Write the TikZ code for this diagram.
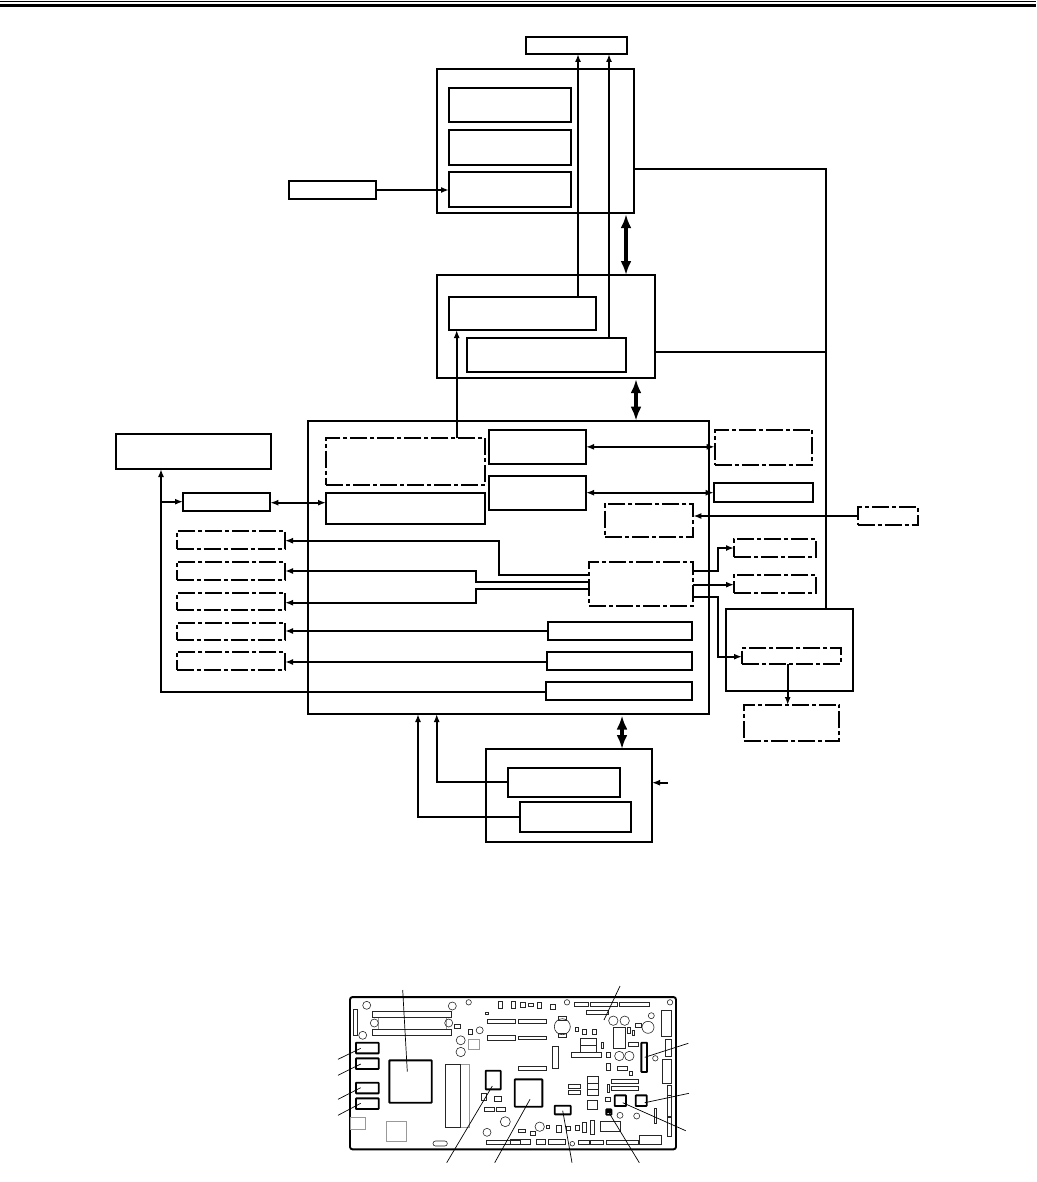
\documentclass[tikz,border=0pt]{standalone}
\usepackage{tikz}
\usetikzlibrary{calc,arrows.meta}
\tikzset{
    solidbox/.style={draw,line width=1.9pt,inner sep=0pt,outer sep=0pt},
    dashbox/.style={solidbox,dash pattern=on 17pt off 3pt on 4pt off 3pt},
    chipbox/.style={draw,line width=1.9pt,inner sep=0pt,outer sep=0pt,rounded corners=0.6pt},
    sigline/.style={line width=1.9pt,-{Latex[length=8pt,width=6pt]}},
    sigboth/.style={line width=1.9pt,{Latex[length=8pt,width=6pt]}-{Latex[length=8pt,width=6pt]}},
    plainline/.style={line width=1.9pt},
    busline/.style={line width=3.6pt,{Latex[length=14pt,width=11pt]}-{Latex[length=14pt,width=11pt]}},
    partline/.style={line width=0.6pt,black!85},
    fadeline/.style={line width=0.6pt,black!40},
    leaderline/.style={line width=0.7pt}
}
\begin{document}
\begin{tikzpicture}[x=1pt,y=-1pt]
    \useasboundingbox (0,0) rectangle (1036,1182);
    \coordinate (ruleL) at (0,1);
    \coordinate (ruleR) at (1036,1);
    \coordinate (barL) at (0,5.5);
    \coordinate (barR) at (1036,5.5);
    \draw[line width=0.8pt] (ruleL) -- (ruleR);
    \draw[line width=2.8pt] (barL) -- (barR);
    % block diagram
    \foreach \n/\xa/\ya/\xb/\yb in {
        panel/525.7/36.7/627/54, reader/436.7/69/634/212.7, rdA/449/88/571.3/122,
        rdB/449/130/571.3/165, rdC/449/172/571.3/207, sensor/288.7/181/376/199,
        driver/436.7/275/655/377.7, drvA/449/296.7/596/330, drvB/467/338/626/372,
        main/308/420.7/709.3/714, mainB/326/493/485.3/524, mainC/488.7/430/586/463.7,
        mainD/488.7/476/586/509.7, mainE/547.7/622/692.3/639.7, mainF/546.7/652/692.3/669.7,
        mainG/546/682.3/692.3/700, outB/713.7/482.7/813.3/502, power/726/609/852.7/691,
        host/116/434/271/469, link/183/493/270.3/510.7, lower/486/749/652/842,
        lowA/508.3/767.7/619.7/797.3, lowB/520/802/631.3/832}
        \node[solidbox,minimum width={(\xb-\xa)*1pt},minimum height={(\yb-\ya)*1pt}] (\n) at ({(\xa+\xb)/2},{(\ya+\yb)/2}) {};
    \foreach \n/\xa/\ya/\xb/\yb in {
        mainA/326/438/485.3/484.7, mainH/605/504/693.3/536.7, mainI/589/562/693.3/606,
        outA/714.7/430/812.3/464.7, outC/857.7/507/918.3/525, outD/734/538.7/816/556.7,
        outE/734/574.7/816/593, powA/742/648/840.7/664, outF/744/705/839.3/741,
        optA/176.7/531/285/548.7, optB/176.7/561.7/285/579.7, optC/176.7/592.7/285/610,
        optD/176.7/622.7/285/640, optE/176.7/652/285/670}
        \node[dashbox,minimum width={(\xb-\xa)*1pt},minimum height={(\yb-\ya)*1pt}] (\n) at ({(\xa+\xb)/2},{(\ya+\yb)/2}) {};
    \draw[sigline] (sensor.east) -- (rdC.west |- sensor.east);
    \draw[sigline] (578,0 |- drvA.north) -- (578,0 |- panel.south);
    \draw[sigline] (609,0 |- drvB.north) -- (609,0 |- panel.south);
    \draw[sigline] (456.7,0 |- mainA.north) -- (456.7,0 |- drvA.south);
    \draw[busline] (626,0 |- reader.south) ++(0,1.5) -- (626,0 |- driver.north);
    \draw[busline] (636,0 |- driver.south) ++(0,1.5) -- (636,0 |- main.north);
    \draw[busline] (622,0 |- main.south) ++(0,1.5) -- (622,0 |- lower.north);
    \draw[plainline] (reader.east |- 0,169) -| (826,0 |- power.north);
    \draw[plainline] (driver.east |- 0,352) -- (826,352);
    \draw[sigboth] (link.east |- 0,502.7) -- (mainB.west |- 0,502.7);
    \draw[sigboth] (mainC.east) -- (outA.west |- mainC.east);
    \draw[sigboth] (mainD.east |- 0,492.7) -- (outB.west |- 0,492.7);
    \draw[sigline] (outC.west) -- (mainH.east |- outC.west);
    \draw[sigline] (mainI.east |- 0,570.7) -- (718,570.7) |- (outD.west |- 0,548);
    \draw[sigline] (mainI.east |- 0,584.7) -- (outE.west |- 0,584.7);
    \draw[sigline] (mainI.east |- 0,596.7) -- (718,596.7) |- (powA.west |- 0,656.7);
    \draw[sigline] (787.7,0 |- powA.south) -- (787.7,0 |- outF.north);
    \draw[sigline] (mainI.west |- 0,575) -- (498.7,575) |- (optA.east |- 0,540.7);
    \draw[sigline] (mainI.west |- 0,582) -- (476,582) |- (optB.east |- 0,571);
    \draw[sigline] (mainI.west |- 0,588.7) -- (476,588.7) |- (optC.east |- 0,602.7);
    \draw[sigline] (mainE.west |- 0,631) -- (optD.east |- 0,631);
    \draw[sigline] (mainF.west |- 0,662) -- (optE.east |- 0,662);
    \draw[sigline] (mainG.west |- 0,692) -| (161,0 |- host.south);
    \draw[sigline] (161,501.7) -- (link.west |- 0,501.7);
    \draw[sigline] (lowA.west |- 0,781.7) -| (436.7,0 |- main.south);
    \draw[sigline] (lowB.west |- 0,817) -| (418,0 |- main.south);
    \coordinate (feed) at (668,782.7);
    \draw[sigline] (feed) -- (lower.east |- feed);
    % board
    \node[solidbox,rounded corners=2.5pt,minimum width=326pt,minimum height=152.3pt] (board) at (513,1073.2) {};
    \foreach \n/\xa/\ya/\xb/\yb in {
        conA/356/1042.7/378.7/1053.3, conB/356/1058.3/378.7/1069, conC/356/1082.7/378.7/1093.3,
        conD/356/1098.3/378.7/1109, chipA/389.3/1060.3/431.7/1102.7, chipB/485.7/1070.7/500.7/1089.3,
        chipC/514.7/1079.3/542.3/1106.7, conE/554.7/1105.7/570.7/1114.3, conF/614.7/1095.3/626/1106,
        conG/635.7/1095.3/646.7/1106, conH/606.3/1109.3/611.3/1114.7, conI/641.3/1042.7/647/1072}
        \node[chipbox,minimum width={(\xb-\xa)*1pt},minimum height={(\yb-\ya)*1pt}] (\n) at ({(\xa+\xb)/2},{(\ya+\yb)/2}) {};
    \fill (606.3,1109.3) rectangle (611.3,1112.5);
    \foreach \xa/\ya/\xb/\yb in {
        378/1017.3/446/1029, 468.7/1039.3/479.3/1049, 460.7/1064.7/469.3/1127.7,
        386.3/1121.7/406.3/1141.7, 350.7/1117.3/365.7/1129.7}
        \draw[fadeline] (\xa,\ya) rectangle (\xb,\yb);
    \foreach \xa/\ya/\xb/\yb in {
        353.3/1009.3/357.7/1035, 372.3/1011.7/451.7/1017.3, 372.3/1029/451.7/1035,
        498.3/1001.7/502.3/1008, 511.7/1001.7/515.7/1008, 485.3/1012/488.7/1014.7,
        454.7/1024.7/460/1028.7, 468/1029.3/472.3/1034, 487.7/1019.3/515.3/1023.3,
        487.7/1035.7/515.3/1040, 445/1064.7/460.7/1127.7,
        481.7/1093.3/486.7/1100, 494.7/1096.7/501/1101, 484.3/1107.7/494.3/1111.7,
        496/1107.7/505.7/1111.7, 486.7/1140/520/1144, 520.7/1002/525.3/1007.7,
        528.3/1003.3/533.3/1006.7, 537.3/1002.3/541.3/1008, 550.7/1004.3/555.7/1009,
        574/1002.7/588.7/1006.3, 590/1002.7/617.7/1006.3, 619.3/1002.7/649.3/1006.3,
        518.7/1019/546/1023, 518.7/1036/546/1039.7, 586/1010/608.3/1014,
        518.7/1066/546/1070, 575.3/1027.7/578.3/1031.7, 582/1029.3/586/1034,
        592.7/1029.3/596.7/1034, 613.7/1027.7/625.3/1048.3, 627.7/1027.7/630.7/1033.3,
        632/1030.3/634.3/1035, 635.3/1023.3/641/1027, 661.7/1010.7/671.7/1036,
        665.3/1039/671/1056.7, 662.7/1059.3/671.3/1083.3, 667.3/1085.3/671.3/1095,
        667.3/1095/671.3/1116.7, 667.3/1117.3/671.3/1136.7, 628.7/1042/638.3/1046.7,
        580.7/1038.7/596/1052, 580.7/1045/596/1052, 571/1052/601.3/1057.3,
        601.3/1042.7/603.7/1048.7, 606/1052.7/610/1057.3, 606.7/1063.3/610.7/1070,
        617.3/1066.7/627.3/1070.7, 629.3/1071/632.3/1075.3, 552.3/1046/558/1068,
        611.7/1079.3/638.3/1083.3, 611.7/1086.3/638.3/1090.3, 607/1084.7/609.7/1092,
        587.3/1076.7/598/1095.3, 587.3/1083/598/1089, 568.3/1084.3/580.7/1088.7,
        568.3/1090.3/580.7/1094.7, 605.3/1097.3/610.3/1101.7, 587.7/1100.7/597.3/1109,
        654/1108.3/656.7/1123.3, 556.7/1125.3/561.7/1132, 566.7/1126/570/1130,
        575/1125.3/579.3/1130.7, 582.3/1122.7/586.7/1132.7, 590/1120.7/594.3/1134,
        518.3/1129.3/525/1132.7, 530/1131.7/535.3/1135.7, 546/1125.3/549.3/1128.3,
        510/1139.3/530/1144, 536.7/1139.3/545.7/1144, 548.3/1139.3/565.7/1144,
        578.3/1140/589/1144, 590/1140/603.7/1144, 606.7/1140/638.3/1144,
        639.3/1135/661/1144, 600.7/1121.7/620/1131.7, 558/1016/566/1020, 558/1033/566/1037}
        \draw[partline] (\xa,\ya) rectangle (\xb,\yb);
    \draw[partline,rounded corners=2.4pt] (433,1141) rectangle (447.3,1146);
    \foreach \x/\y/\r in {
        366.7/1005.3/4, 452.3/1006/4, 374.3/1023/4, 448.7/1023/4, 362.7/1035.3/4,
        468.7/1002.3/2.7, 479.7/1030.3/3.5, 460.7/1040.3/4.5, 460.7/1052/4.7,
        505.3/1121.7/5, 487/1132.3/4, 567/1002.3/2.7, 613.3/1020.7/4.7, 624.7/1020.7/4.7,
        619.3/1056/4.7, 629.3/1056/4.7, 651.3/1015.7/3, 648/1027.3/6, 670/1002.3/2.7,
        655.3/1058.3/2.7, 620/1115.3/3, 636.7/1116/3, 539.7/1126.7/4.7, 572.3/1143.7/2.3,
        562.3/1026.7/8}
        \draw[partline] (\x,\y) circle (\r pt);
    \foreach \n/\xa/\ya/\xb/\yb in {
        tagA/402.7/990/407.3/1071.7, tagB/338/1059.3/360.7/1048.3, tagC/338/1075.3/360.7/1064,
        tagD/338/1099.3/360.7/1087.7, tagE/338/1115.3/360.7/1103.3, tagF/446.7/1162.7/492.3/1086,
        tagG/494.7/1162.7/530/1099.3, tagH/572/1162.7/562.7/1110.7, tagI/639.3/1162.7/609/1112.7,
        tagJ/685.7/1130.7/622.7/1102.7, tagK/689/1093.3/644.7/1102.7, tagL/688.3/1043.3/644.7/1057.3,
        tagM/620/986/604/1020} {
        \coordinate (\n a) at (\xa,\ya);
        \coordinate (\n b) at (\xb,\yb);
        \draw[leaderline] (\n a) -- (\n b);
    }
\end{tikzpicture}
\end{document}
